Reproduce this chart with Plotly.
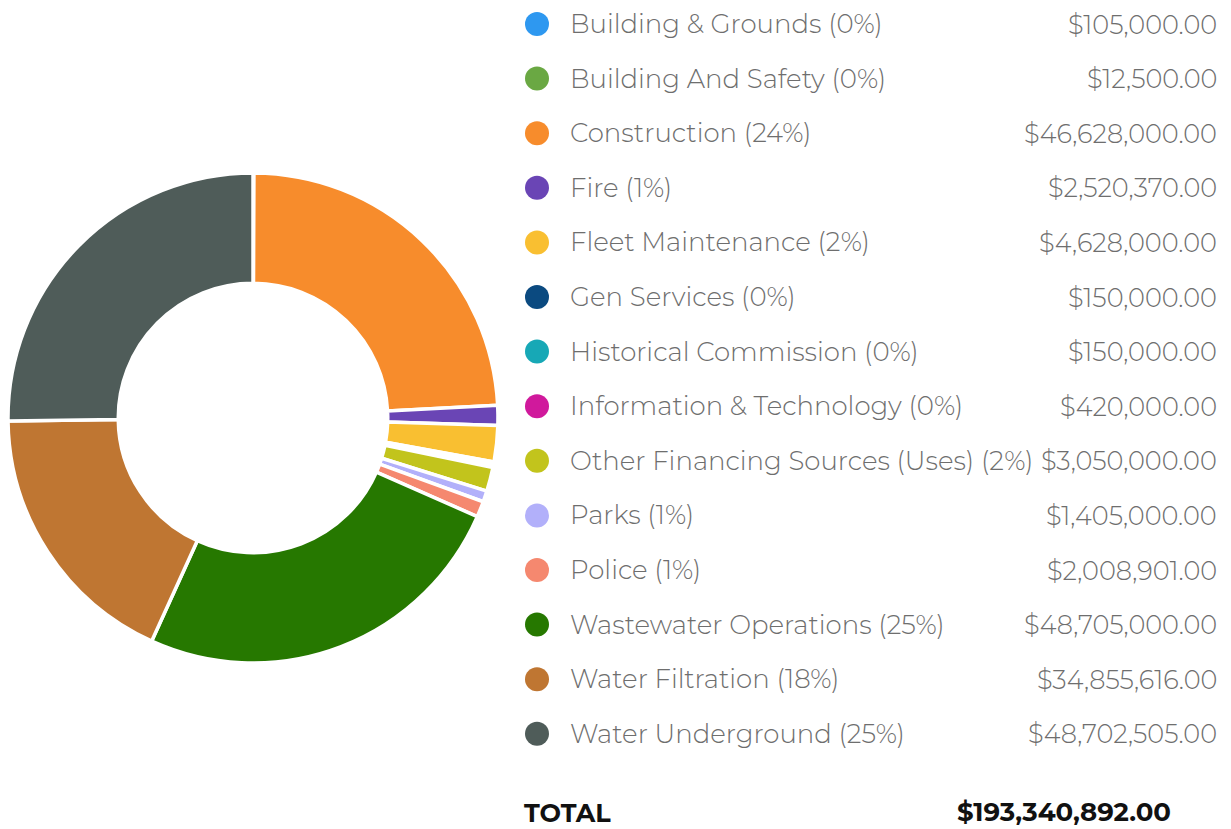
import plotly.graph_objects as go

categories = [
    "Building & Grounds", "Building And Safety", "Construction", "Fire",
    "Fleet Maintenance", "Gen Services", "Historical Commission",
    "Information & Technology", "Other Financing Sources (Uses)", "Parks",
    "Police", "Wastewater Operations", "Water Filtration", "Water Underground",
]
values = [105000.00, 12500.00, 46628000.00, 2520370.00, 4628000.00, 150000.00,
          150000.00, 420000.00, 3050000.00, 1405000.00, 2008901.00, 48705000.00,
          34855616.00, 48702505.00]
percent_labels = ["0%", "0%", "24%", "1%", "2%", "0%", "0%", "0%", "2%", "1%",
                  "1%", "25%", "18%", "25%"]
value_labels = ["$105,000.00", "$12,500.00", "$46,628,000.00", "$2,520,370.00",
                "$4,628,000.00", "$150,000.00", "$150,000.00", "$420,000.00",
                "$3,050,000.00", "$1,405,000.00", "$2,008,901.00", "$48,705,000.00",
                "$34,855,616.00", "$48,702,505.00"]
total_label = "$193,340,892.00"
colors = ["#2E98F0", "#6AA843", "#F78C2C", "#6A45B5", "#F9BF31", "#0B4A80",
          "#17A8B6", "#D0199C", "#C2C41C", "#B2B0FA", "#F5886F", "#267800",
          "#BF7632", "#4F5C59"]

W, H = 1231, 829
fig = go.Figure()

cx, cy, R = 253, 418, 245
fig.add_trace(go.Pie(
    labels=categories, values=values, sort=False, direction="clockwise",
    rotation=0, hole=0.55, textinfo="none", showlegend=False,
    marker=dict(colors=colors, line=dict(color="white", width=3.5)),
    domain=dict(x=[(cx - R) / W, (cx + R) / W], y=[1 - (cy + R) / H, 1 - (cy - R) / H]),
))

row0, step = 24, 54.6
ys = [row0 + i * step for i in range(len(categories))]
fig.add_trace(go.Scatter(
    x=[537] * len(categories), y=ys, mode="markers", showlegend=False,
    marker=dict(size=24, color=colors), hoverinfo="skip",
    xaxis="x", yaxis="y",
))

font_name = "Montserrat, 'Open Sans', sans-serif"
annotations = []
for i, (c, p, v) in enumerate(zip(categories, percent_labels, value_labels)):
    annotations.append(dict(x=568, y=ys[i], xref="x", yref="y", text=f"{c} ({p})",
                            showarrow=False, xanchor="left", yanchor="middle",
                            font=dict(family=font_name, size=26, color="#6e6e6e", weight=300)))
    annotations.append(dict(x=1219, y=ys[i], xref="x", yref="y", text=v,
                            showarrow=False, xanchor="right", yanchor="middle",
                            font=dict(family=font_name, size=25.6, color="#6e6e6e", weight=300)))
annotations.append(dict(x=522, y=812, xref="x", yref="y", text="<b>TOTAL</b>",
                        showarrow=False, xanchor="left", yanchor="middle",
                        font=dict(family=font_name, size=25.5, color="#111111")))
annotations.append(dict(x=1173, y=812, xref="x", yref="y", text=f"<b>{total_label}</b>",
                        showarrow=False, xanchor="right", yanchor="middle",
                        font=dict(family=font_name, size=26, color="#111111")))

fig.update_layout(
    width=W, height=H, margin=dict(l=0, r=0, t=0, b=0),
    paper_bgcolor="white", plot_bgcolor="rgba(0,0,0,0)",
    xaxis=dict(range=[0, W], visible=False, fixedrange=True, domain=[0, 1]),
    yaxis=dict(range=[H, 0], visible=False, fixedrange=True, domain=[0, 1]),
    annotations=annotations,
)
fig.write_html("out.html", config={"displayModeBar": False},
               post_script="document.body.style.margin='0';document.body.style.overflow='hidden';")
